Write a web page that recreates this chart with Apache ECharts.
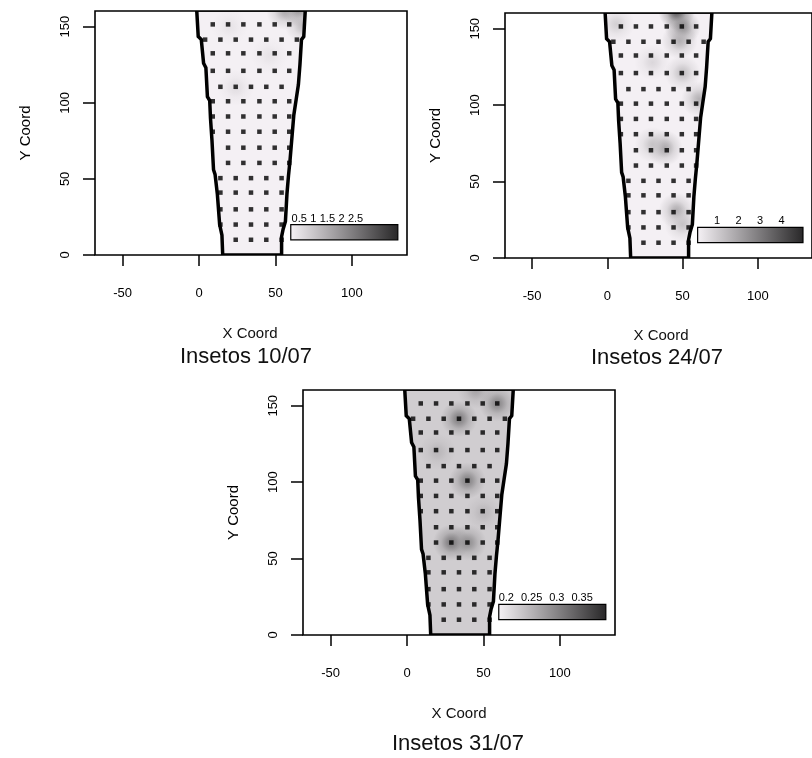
<!DOCTYPE html>
<html><head><meta charset="utf-8">
<script src="https://cdn.jsdelivr.net/npm/echarts@6/dist/echarts.min.js"></script>
<style>html,body{margin:0;padding:0;background:#fff}#c{width:812px;height:758px}</style>
</head><body><div id="c"></div>
<script>
// ---------------- data ----------------
const xTicks = [-50, 0, 50, 100];
const yTicks = [0, 50, 100, 150];
const panelTitles = ['Insetos 10/07', 'Insetos 24/07', 'Insetos 31/07'];

// sampling points (rows of dots)
const dotRowY = [151.5, 141.5, 132.5, 121, 110.5, 101, 91, 81, 70.5, 60.5, 50.5, 41, 30, 20, 10];
const dotRowX = [
  [9, 19, 29, 39.5, 49.5, 59],
  [4, 14, 24, 34, 44, 54, 64],
  [9, 19, 29, 39.5, 49.5, 59],
  [9, 19, 29, 39.5, 49.5, 59],
  [14, 24, 34, 44, 54],
  [9, 19, 29, 39.5, 49.5, 59],
  [9, 19, 29, 39.5, 49.5, 59],
  [9, 19, 29, 39.5, 49.5, 59],
  [19, 29, 39.5, 49.5, 59],
  [19, 29, 39.5, 49.5, 59],
  [14, 24, 34, 44, 54],
  [14, 24, 34, 44, 54],
  [14, 24, 34, 44, 54],
  [14, 24, 34, 44, 54],
  [24, 34, 44, 54]
];

// field border (left side top->bottom, right side top->bottom)
const fieldLeftX  = [-1.5, -0.5, 1.5, 3, 4.5, 5.5, 7, 7.5, 8.5, 9.5, 10.5, 12, 13.5, 15, 15.5];
const fieldLeftY  = [161, 143.5, 141.5, 126, 123, 104, 101.5, 90, 75, 56, 53, 40, 20, 13, 0];
const fieldRightX = [69.5, 68.5, 67, 66, 65, 63.5, 62, 61, 59.5, 58.5, 57.5, 56.5, 55, 54, 54];
const fieldRightY = [161, 143.5, 141.5, 125, 112, 102, 92, 80, 62, 52, 40, 22, 17, 12, 0];

// colour scale range of each map and legend labels
const scaleMin = [0.2, 0.1, 0.185];
const scaleMax = [4.0, 5.0, 0.397];
const legendTicks1 = [0.5, 1, 1.5, 2, 2.5];
const legendTicks2 = [1, 2, 3, 4];
const legendTicks3 = [0.2, 0.25, 0.3, 0.35];
const legendLabels1 = ['0.5', '1', '1.5', '2', '2.5'];
const legendLabels2 = ['1', '2', '3', '4'];
const legendLabels3 = ['0.2', '0.25', '0.3', '0.35'];

// predicted surface: background level and local maxima [x, y, value]
const baseValue = [0.24, 0.15, 0.224];
const spots1 = [[65, 162, 2.4], [56, 160, 1.6], [68, 151, 1.3], [24, 110, 0.6], [46, 131, 0.5], [20, 150, 0.5]];
const spots2 = [[46, 161, 4.2], [50, 151, 2.8], [48, 142, 1.8], [50, 121, 1.4], [61, 104, 1.8],
                [38, 72, 2.1], [30, 74, 1.3], [46, 31, 1.9], [50, 22, 1.3], [6, 153, 1.0], [30, 128, 0.8]];
const spots3 = [[34, 141.5, 0.315], [59, 151.5, 0.305], [39.5, 101, 0.31], [29, 60.5, 0.32],
                [40, 60.5, 0.295], [45, 160, 0.27], [20, 120, 0.25], [50, 80, 0.25]];

// ---------------- chart ----------------
const FONT = '"Liberation Sans", Arial, sans-serif';
const spotsAll = [spots1, spots2, spots3];
const legendTicksAll = [legendTicks1, legendTicks2, legendTicks3];
const legendLabelsAll = [legendLabels1, legendLabels2, legendLabels3];

function gray(v, lo, hi, alpha) {
  let t = (v - lo) / (hi - lo); t = Math.max(0, Math.min(1, t));
  const L = Math.round(246 - t * (246 - 40));
  const g = Math.round(L - 4 * L / 246);
  return alpha === undefined ? 'rgb(' + L + ',' + g + ',' + L + ')' : 'rgba(' + L + ',' + g + ',' + L + ',' + alpha + ')';
}

function fieldPoints(api) {
  const pts = [];
  for (let k = 0; k < fieldLeftX.length; k++) pts.push(api.coord([fieldLeftX[k], fieldLeftY[k]]));
  for (let k = fieldRightX.length - 1; k >= 0; k--) pts.push(api.coord([fieldRightX[k], fieldRightY[k]]));
  return pts;
}

const dotData = [];
dotRowY.forEach((y, r) => dotRowX[r].forEach(x => dotData.push([x, y])));

const grids = [
  {left: 95, top: 11, width: 312, height: 244},
  {left: 505, top: 13, width: 312, height: 245},
  {left: 303, top: 390, width: 312, height: 245}
];
const titlePos = [[246, 357, 250, 334], [657, 358, 661, 336], [458, 744, 459, 714]];

const option = {
  backgroundColor: '#fff',
  animation: false,
  grid: grids.map(g => Object.assign({show: true, borderColor: '#000', borderWidth: 1.6, z: 10, backgroundColor: 'transparent'}, g)),
  xAxis: grids.map((g, i) => ({
    gridIndex: i, type: 'value', min: -68, max: 136, position: 'bottom',
    axisLine: {show: false, onZero: false}, splitLine: {show: false},
    axisTick: {show: true, customValues: xTicks, length: 11, lineStyle: {color: '#000', width: 1.5}},
    axisLabel: {customValues: xTicks, margin: 32, fontSize: 13, color: '#000', fontFamily: FONT},
    name: '', z: 11
  })),
  yAxis: grids.map((g, i) => ({
    gridIndex: i, type: 'value', min: 0, max: 160.3, position: 'left',
    axisLine: {show: false, onZero: false}, splitLine: {show: false},
    axisTick: {show: true, customValues: yTicks, length: 12, lineStyle: {color: '#000', width: 1.5}},
    axisLabel: {customValues: yTicks, rotate: 90, margin: 23, fontSize: 13, color: '#000', fontFamily: FONT},
    name: 'Y Coord', nameLocation: 'middle', nameGap: 62, nameRotate: 90,
    nameTextStyle: {fontSize: 15, color: '#000', fontFamily: FONT}, z: 11
  })),
  graphic: titlePos.flatMap((p, i) => [
    {type: 'text', x: p[0], y: p[1], style: {text: panelTitles[i], font: '22px ' + FONT, fill: '#111', textAlign: 'center', textVerticalAlign: 'middle', align: 'center', verticalAlign: 'middle'}},
    {type: 'text', x: p[2], y: p[3], style: {text: 'X Coord', font: '15px ' + FONT, fill: '#111', textAlign: 'center', textVerticalAlign: 'middle', align: 'center', verticalAlign: 'middle'}}
  ]),
  series: []
};

for (let i = 0; i < 3; i++) {
  const lo = scaleMin[i], hi = scaleMax[i];
  const ax = {xAxisIndex: i, yAxisIndex: i};
  // field background level
  option.series.push(Object.assign({
    type: 'custom', z: 1, silent: true, clip: true, data: [[baseValue[i], 0]],
    renderItem: (params, api) => ({type: 'polygon', shape: {points: fieldPoints(api)}, style: {fill: gray(baseValue[i], lo, hi)}})
  }, ax));
  // local maxima of the surface
  option.series.push(Object.assign({
    type: 'custom', z: 2, silent: true, clip: true, data: spotsAll[i],
    renderItem: (params, api) => {
      const c = api.coord([api.value(0), api.value(1)]);
      const r = api.size([12, 12])[0];
      const v = api.value(2);
      return {type: 'circle', shape: {cx: c[0], cy: c[1], r: r}, style: {fill: {
        type: 'radial', x: 0.5, y: 0.5, r: 0.5, colorStops: [
          {offset: 0, color: gray(v, lo, hi, 0.95)},
          {offset: 0.25, color: gray(v, lo, hi, 0.7)},
          {offset: 0.55, color: gray(v, lo, hi, 0.3)},
          {offset: 1, color: gray(v, lo, hi, 0)}]}}};
    }
  }, ax));
  // white outside the field
  option.series.push(Object.assign({
    type: 'custom', z: 3, silent: true, clip: true, data: [[0, 0]],
    renderItem: (params, api) => {
      const L = [], R = [];
      for (let k = 0; k < fieldLeftX.length; k++) L.push(api.coord([fieldLeftX[k], fieldLeftY[k]]));
      for (let k = fieldLeftX.length - 1; k >= 0; k--) L.push(api.coord([fieldLeftX[k] - 24, fieldLeftY[k]]));
      for (let k = 0; k < fieldRightX.length; k++) R.push(api.coord([fieldRightX[k], fieldRightY[k]]));
      for (let k = fieldRightX.length - 1; k >= 0; k--) R.push(api.coord([fieldRightX[k] + 24, fieldRightY[k]]));
      return {type: 'group', children: [
        {type: 'polygon', shape: {points: L}, style: {fill: '#fff'}},
        {type: 'polygon', shape: {points: R}, style: {fill: '#fff'}}]};
    }
  }, ax));
  // field border
  option.series.push(Object.assign({
    type: 'custom', z: 4, silent: true, clip: true, data: [[0, 0]],
    renderItem: (params, api) => ({type: 'polygon', shape: {points: fieldPoints(api)},
      style: {fill: 'transparent', stroke: '#000', lineWidth: 3.5, lineJoin: 'miter'}})
  }, ax));
  // sampling points
  option.series.push(Object.assign({
    type: 'scatter', z: 5, silent: true, symbol: 'rect', symbolSize: 4.5,
    itemStyle: {color: '#000'}, data: dotData
  }, ax));
  // colour legend
  option.series.push(Object.assign({
    type: 'custom', z: 6, silent: true, clip: false, data: [[0, 0]],
    renderItem: (params, api) => {
      const p0 = api.coord([60, 20]), p1 = api.coord([130, 10]);
      const children = [{type: 'rect', shape: {x: p0[0], y: p0[1], width: p1[0] - p0[0], height: p1[1] - p0[1]},
        style: {fill: {type: 'linear', x: 0, y: 0, x2: 1, y2: 0, colorStops: [
          {offset: 0, color: gray(lo, lo, hi)}, {offset: 1, color: gray(hi, lo, hi)}]}, stroke: '#000', lineWidth: 1.2}}];
      legendTicksAll[i].forEach((v, k) => {
        const p = api.coord([60 + (v - lo) / (hi - lo) * 70, 20]);
        children.push({type: 'text', style: {text: legendLabelsAll[i][k], x: p[0], y: p[1] - 0.5,
          font: '11px ' + FONT, fill: '#000', align: 'center', verticalAlign: 'bottom', textAlign: 'center', textVerticalAlign: 'bottom'}});
      });
      return {type: 'group', children: children};
    }
  }, ax));
}

const chart = echarts.init(document.getElementById('c'));
chart.setOption(option);
</script></body></html>
